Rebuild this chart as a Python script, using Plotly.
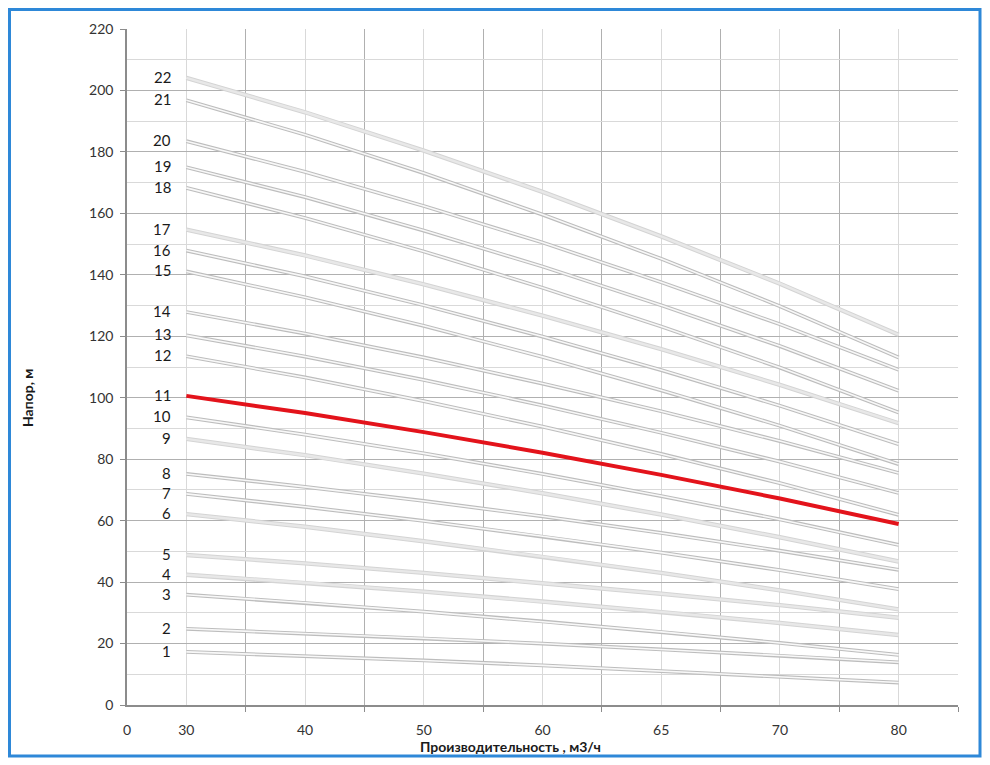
import plotly.graph_objects as go

# Categories (flow, m3/h) and axis labels
flow_labels = ["30", "40", "50", "60", "65", "70", "80"]
x_tick_labels = ["0", "30", "40", "50", "60", "65", "70", "80"]
y_ticks = [0, 20, 40, 60, 80, 100, 120, 140, 160, 180, 200, 220]

# Head curves (m) per pump stage count, read at each flow category
h1 = [17.3, 16.0, 14.5, 12.9, 11.1, 9.3, 7.3]
h2 = [24.8, 23.3, 21.7, 20.0, 18.1, 16.1, 13.9]
h3 = [35.9, 33.3, 30.4, 27.2, 23.8, 20.2, 16.3]
h4 = [42.4, 39.8, 36.9, 33.7, 30.3, 26.7, 22.8]
h5 = [48.8, 46.1, 43.0, 39.7, 36.2, 32.5, 28.4]
h6 = [62.1, 58.0, 53.3, 48.3, 43.0, 37.3, 31.1]
h7 = [68.7, 64.5, 59.9, 54.9, 49.6, 43.9, 37.7]
h8 = [75.2, 71.0, 66.4, 61.4, 56.0, 50.2, 44.0]
h9 = [86.6, 81.3, 75.3, 68.9, 62.0, 54.6, 46.7]
h10 = [93.6, 88.0, 81.9, 75.2, 68.0, 60.4, 52.1]
h11 = [100.6, 95.0, 88.8, 82.1, 74.9, 67.2, 58.9]
h12 = [113.5, 106.6, 98.9, 90.6, 81.7, 72.2, 61.9]
h13 = [120.3, 113.4, 105.8, 97.5, 88.6, 79.2, 69.0]
h14 = [127.9, 120.9, 113.1, 104.6, 95.6, 85.9, 75.5]
h15 = [141.1, 132.7, 123.4, 113.3, 102.4, 90.9, 78.4]
h16 = [147.9, 139.5, 130.1, 119.9, 109.0, 97.4, 84.9]
h17 = [154.7, 146.3, 136.9, 126.7, 115.8, 104.2, 91.7]
h18 = [168.3, 158.5, 147.6, 135.8, 123.2, 109.8, 95.2]
h19 = [175.0, 165.3, 154.4, 142.7, 130.1, 116.8, 102.3]
h20 = [183.5, 173.5, 162.4, 150.5, 137.6, 123.9, 109.1]
h21 = [196.8, 185.6, 173.1, 159.6, 145.2, 129.8, 113.1]
h22 = [204.1, 192.9, 180.4, 167.0, 152.5, 137.1, 120.5]

series = [h1, h2, h3, h4, h5, h6, h7, h8, h9, h10, h11,
          h12, h13, h14, h15, h16, h17, h18, h19, h20, h21, h22]
series_names = [str(i) for i in range(1, 23)]
highlight = "11"
light_style = {"22", "17", "9", "6", "5", "4"}

# category positions (centres of category slots)
xpos = [i + 0.5 for i in range(len(flow_labels))]
xtickpos = [0] + xpos

FONT = "Lato, Open Sans, sans-serif"

fig = go.Figure()

for name, vals in zip(series_names, series):
    if name == highlight:
        continue
    if name in light_style:
        outer, ow, inner, iw = "#d4d4d4", 4.4, "#e8e8e8", 2.4
    else:
        outer, ow, inner, iw = "#bdbdbd", 3.8, "#f8f8f8", 1.6
    fig.add_trace(go.Scatter(x=xpos, y=vals, mode="lines",
                             line=dict(color=outer, width=ow),
                             showlegend=False, hoverinfo="skip"))
    fig.add_trace(go.Scatter(x=xpos, y=vals, mode="lines", name=name,
                             line=dict(color=inner, width=iw),
                             showlegend=False))

red_vals = series[series_names.index(highlight)]
fig.add_trace(go.Scatter(x=xpos, y=red_vals, mode="lines", name=highlight,
                         line=dict(color="#e3131b", width=4),
                         showlegend=False))

# stage number labels at curve starts
for name, vals in zip(series_names, series):
    fig.add_annotation(x=xpos[0], y=vals[0], text=name, showarrow=False,
                       xanchor="right", yanchor="middle", xshift=-13, yshift=1,
                       font=dict(family=FONT, size=15, color="#1a1a1a"))

fig.add_annotation(x=(510 - 127) / 831, y=(705 - 746) / 676, xref="paper", yref="paper",
                   text="<b>Производительность , м3/ч</b>", showarrow=False,
                   xanchor="center", yanchor="middle",
                   font=dict(family=FONT, size=14, color="#1a1a1a"))
fig.add_annotation(x=(28 - 127) / 831, y=(705 - 398) / 676, xref="paper", yref="paper",
                   text="<b>Напор, м</b>", showarrow=False, textangle=-90,
                   xanchor="center", yanchor="middle",
                   font=dict(family=FONT, size=14, color="#1a1a1a"))

# blue frame (page has an 8px body margin, plot area kept at reference pixels)
fig.add_shape(type="rect", xref="paper", yref="paper",
              x0=(9.5 - 127) / 831, x1=(980 - 127) / 831,
              y0=(705 - 756) / 676, y1=(705 - 9.5) / 676,
              line=dict(color="#2e88d8", width=3), layer="below")

fig.update_layout(
    width=982, height=757,
    margin=dict(l=119, r=32, t=21, b=60),
    paper_bgcolor="white", plot_bgcolor="white",
    font=dict(family=FONT, size=14, color="#333333"),
    xaxis=dict(
        range=[0, 7], tickmode="array", tickvals=xtickpos, ticktext=x_tick_labels,
        showgrid=True, gridcolor="#d9d9d9", gridwidth=1,
        ticks="", ticklabelstandoff=11,
        showline=True, linecolor="#8c8c8c", linewidth=2, zeroline=False,
        minor=dict(tickmode="array", tickvals=list(range(1, 8)),
                   showgrid=True, gridcolor="#b0b0b0", gridwidth=1,
                   ticks="outside", ticklen=5, tickcolor="#8c8c8c"),
        fixedrange=True,
    ),
    yaxis=dict(
        range=[0, 220], tickmode="array", tickvals=y_ticks,
        showgrid=True, gridcolor="#b0b0b0", gridwidth=1,
        ticks="outside", ticklen=5, tickcolor="#8c8c8c", ticklabelstandoff=4,
        showline=True, linecolor="#8c8c8c", linewidth=1.5, zeroline=False,
        minor=dict(dtick=10, showgrid=True, gridcolor="#d9d9d9", gridwidth=1),
        fixedrange=True,
    ),
)

fig.write_html("out.html")
